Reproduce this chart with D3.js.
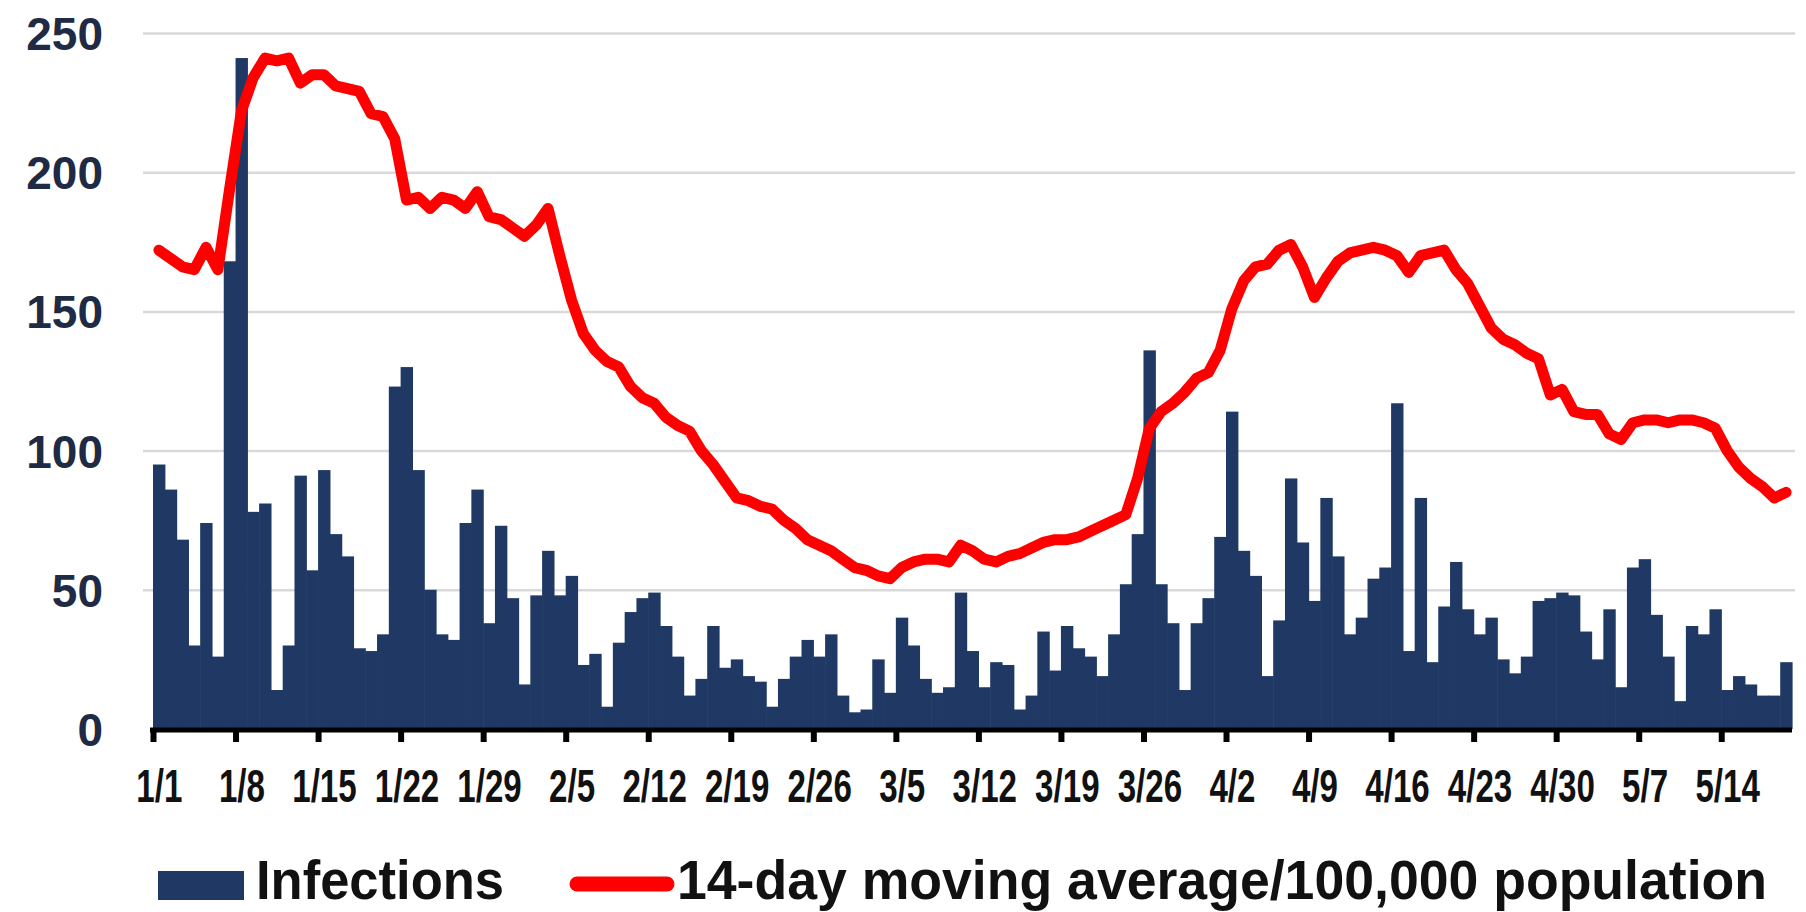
<!DOCTYPE html>
<html><head><meta charset="utf-8">
<script src="https://cdn.jsdelivr.net/npm/d3@7"></script>
<style>body{margin:0;background:#fff} svg{display:block}</style>
</head><body>
<svg id="c" width="1806" height="912"></svg>
<script>
const tickLabels = ["1/1","1/8","1/15","1/22","1/29","2/5","2/12","2/19","2/26","3/5","3/12","3/19","3/26","4/2","4/9","4/16","4/23","4/30","5/7","5/14"];
const yTicks = [0, 50, 100, 150, 200, 250];
const seriesNames = ["Infections", "14-day moving average/100,000 population"];

// daily infections, 1/1 .. 5/19
const infections = [
  95, 86, 68, 30, 74, 26, 168, 241, 78, 81,
  14, 30, 91, 57, 93, 70, 62, 29, 28, 34,
  123, 130, 93, 50, 34, 32, 74, 86, 38, 73,
  47, 16, 48, 64, 48, 55, 23, 27, 8, 31,
  42, 47, 49, 37, 26, 12, 18, 37, 22, 25,
  19, 17, 8, 18, 26, 32, 26, 34, 12, 6,
  7, 25, 13, 40, 30, 18, 13, 15, 49, 28,
  15, 24, 23, 7, 12, 35, 21, 37, 29, 26,
  19, 34, 52, 70, 136, 52, 38, 14, 38, 47,
  69, 114, 64, 55, 19, 39, 90, 67, 46, 83,
  62, 34, 40, 54, 58, 117, 28, 83, 24, 44,
  60, 43, 34, 40, 25, 20, 26, 46, 47, 49,
  48, 35, 25, 43, 15, 58, 61, 41, 26, 10,
  37, 34, 43, 14, 19, 16, 12, 12, 24
];

// 14-day moving average per 100,000
const movingAvg = [
  172, 169, 166, 165, 173, 165, 194, 222, 234, 241,
  240, 241, 232, 235, 235, 231, 230, 229, 221, 220,
  212, 190, 191, 187, 191, 190, 187, 193, 184, 183,
  180, 177, 181, 187, 170, 154, 142, 136, 132, 130,
  123, 119, 117, 112, 109, 107, 100, 95, 89, 83,
  82, 80, 79, 75, 72, 68, 66, 64, 61, 58,
  57, 55, 54, 58, 60, 61, 61, 60, 66, 64,
  61, 60, 62, 63, 65, 67, 68, 68, 69, 71,
  73, 75, 77, 90, 108, 114, 117, 121, 126, 128,
  136, 151, 161, 166, 167, 172, 174, 166, 155, 162,
  168, 171, 172, 173, 172, 170, 164, 170, 171, 172,
  165, 160, 152, 144, 140, 138, 135, 133, 120, 122,
  114, 113, 113, 106, 104, 110, 111, 111, 110, 111,
  111, 110, 108, 100, 94, 90, 87, 83, 85
];

const navy = "#1f3864", red = "#ff0000";
const svg = d3.select("#c");
const X0 = 153, X1 = 1792, Y0 = 729, Y1 = 33;
const n = infections.length;
const days = d3.range(n);
const x = d3.scaleBand().domain(days).range([X0, X1]).padding(0);
const xl = d3.scaleLinear().domain([0, n]).range([X0, X1]);
const y = d3.scaleLinear().domain([0, 250]).range([Y0, Y1]);
const font = "'Liberation Sans', Arial, sans-serif";

// gridlines
const grid = svg.append("g").attr("transform", `translate(143,0)`)
  .call(d3.axisLeft(y).tickValues(yTicks.filter(v => v > 0)).tickSize(-(1795 - 143)).tickFormat(""));
grid.select(".domain").remove();
grid.selectAll("line").attr("stroke", "#d9d9d9").attr("stroke-width", 2.5);

// y axis labels
const ya = svg.append("g").attr("transform", `translate(103,0)`)
  .call(d3.axisLeft(y).tickValues(yTicks).tickSize(0).tickPadding(0));
ya.select(".domain").remove();
ya.selectAll("text").attr("font-family", font).attr("font-weight", "bold")
  .attr("font-size", 46).attr("fill", "#1f2a44").attr("dy", "0.36em");

// bars
svg.append("g").selectAll("rect").data(days).join("rect")
  .attr("x", d => x(d))
  .attr("width", x.bandwidth() + 0.6)
  .attr("y", d => y(infections[d]))
  .attr("height", d => y(0) - y(infections[d]))
  .attr("fill", navy);

// x axis
const weekStarts = tickLabels.map((_, i) => i * 7);
const xa = svg.append("g").attr("transform", `translate(0,${Y0 + 1})`)
  .call(d3.axisBottom(xl).tickValues(weekStarts).tickSize(12).tickSizeOuter(0)
    .tickFormat((d, i) => tickLabels[i]));
xa.select(".domain").attr("stroke", "#000").attr("stroke-width", 5)
  .attr("d", `M${X0 - 3},0H${X1}`);
xa.selectAll(".tick line").attr("stroke", "#000").attr("stroke-width", 6);
xa.selectAll(".tick text")
  .attr("font-family", font).attr("font-weight", "bold").attr("font-size", 46)
  .attr("fill", "#111").attr("x", x.bandwidth() / 2).attr("y", 72).attr("dy", 0)
  .each(function () {
    const w = this.getComputedTextLength();
    d3.select(this).attr("textLength", w * 0.72).attr("lengthAdjust", "spacingAndGlyphs");
  });

// moving average line
const line = d3.line()
  .x(d => x(d) + x.bandwidth() / 2)
  .y(d => y(movingAvg[d]));
svg.append("path").datum(days)
  .attr("d", line).attr("fill", "none").attr("stroke", red)
  .attr("stroke-width", 11).attr("stroke-linejoin", "round").attr("stroke-linecap", "round");

// legend
const lg = svg.append("g");
lg.append("rect").attr("x", 158).attr("y", 871).attr("width", 86).attr("height", 29).attr("fill", navy);
lg.append("text").attr("x", 256).attr("y", 899).text(seriesNames[0])
  .attr("font-family", font).attr("font-weight", "bold").attr("font-size", 55).attr("fill", "#111")
  .attr("textLength", 248).attr("lengthAdjust", "spacingAndGlyphs");
lg.append("line").attr("x1", 577).attr("x2", 667).attr("y1", 884).attr("y2", 884)
  .attr("stroke", red).attr("stroke-width", 15).attr("stroke-linecap", "round");
lg.append("text").attr("x", 677).attr("y", 899).text(seriesNames[1])
  .attr("font-family", font).attr("font-weight", "bold").attr("font-size", 55).attr("fill", "#111")
  .attr("textLength", 1090).attr("lengthAdjust", "spacingAndGlyphs");
</script>
</body></html>
